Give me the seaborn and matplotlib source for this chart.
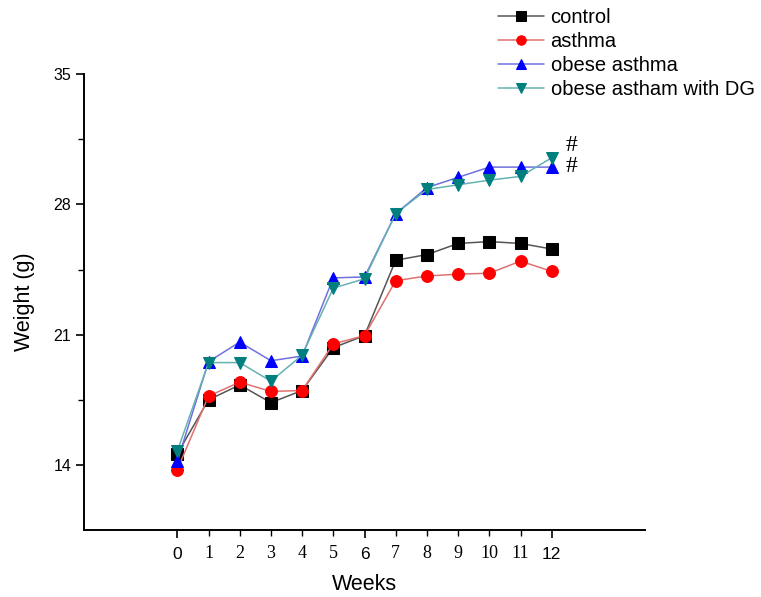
import pandas as pd
import matplotlib.pyplot as plt
import seaborn as sns

# ===============================
# Body weight data
# ===============================
weeks = list(range(13))
control = [14.6, 17.5, 18.3, 17.35, 18.0, 20.3, 20.95, 25.0, 25.3, 25.9, 26.0, 25.9, 25.6]
asthma = [13.75, 17.7, 18.45, 17.95, 18.0, 20.5, 20.95, 23.9, 24.15, 24.25, 24.3, 24.95, 24.4]
obese_asthma = [14.2, 19.55, 20.6, 19.6, 19.85, 24.05, 24.1, 27.5, 28.9, 29.45, 30.0, 30.0, 30.0]
obese_dg = [14.75, 19.5, 19.5, 18.5, 19.9, 23.5, 24.0, 27.5, 28.8, 29.05, 29.3, 29.5, 30.5]

series = [
    ('control', control, 's', '#000000', '#555555'),
    ('asthma', asthma, 'o', '#ff0000', '#e07070'),
    ('obese asthma', obese_asthma, '^', '#0000ff', '#7070e0'),
    ('obese astham with DG', obese_dg, 'v', '#007f7f', '#66b2b2'),
]

sns.set_style('white')
plt.rcParams['font.family'] = ['Liberation Sans', 'DejaVu Sans']
plt.rcParams['text.color'] = 'black'
plt.rcParams['axes.labelcolor'] = 'black'
plt.rcParams['xtick.color'] = 'black'
plt.rcParams['ytick.color'] = 'black'

fig = plt.figure(figsize=(7.61, 5.97), dpi=100)
ax = fig.add_axes([0.110, 0.112, 0.738, 0.764])

for name, vals, mk, mcol, lcol in series:
    df = pd.DataFrame({'week': weeks, 'weight': vals})
    sns.lineplot(data=df, x='week', y='weight', ax=ax, label=name,
                 color=lcol, linewidth=1.1, marker=mk, markersize=8.5,
                 markerfacecolor=mcol, markeredgecolor=mcol)

# significance marks
ax.text(12.45, 31.15, '#', fontsize=17, family='Liberation Serif', va='center', ha='left')
ax.text(12.45, 30.05, '#', fontsize=17, family='Liberation Serif', va='center', ha='left')

ax.set_xlim(-3, 15)
ax.set_ylim(10.5, 35)

# x ticks: 0/6/12 as major, the rest minor in a serif face
ax.set_xticks([0, 6, 12], labels=['0', '6', '12'])
minor_w = [w for w in weeks if w % 6 != 0]
ax.set_xticks(minor_w, labels=[str(w) for w in minor_w], minor=True)
for lab in ax.get_xticklabels(minor=True):
    lab.set_fontfamily('Liberation Serif')
ax.tick_params(axis='x', which='major', length=6, width=1.2, labelsize=12.5, pad=6)
ax.tick_params(axis='x', which='minor', length=4, width=1, labelsize=13, pad=7)

ax.set_yticks([14, 21, 28, 35])
ax.set_yticks([17.5, 24.5, 31.5], minor=True)
ax.tick_params(axis='y', which='major', length=6, width=1.2, labelsize=11.5, pad=3)
ax.tick_params(axis='y', which='minor', length=4, width=1)
ax.tick_params(axis='both', which='both', direction='out', bottom=True, left=True, color='black')

for side in ['top', 'right']:
    ax.spines[side].set_visible(False)
for side in ['left', 'bottom']:
    ax.spines[side].set_linewidth(1.4)
    ax.spines[side].set_color('black')

ax.set_xlabel('Weeks', fontsize=15.5, labelpad=8)
ax.set_ylabel('Weight (g)', fontsize=15.5, labelpad=13)

handles, labels = ax.get_legend_handles_labels()
ax.get_legend().remove()
fig.legend(handles, labels, loc='upper left', bbox_to_anchor=(0.644, 1.0),
           frameon=False, fontsize=14.5, handlelength=2.3, labelspacing=0.25,
           handletextpad=0.3, borderaxespad=0, markerscale=0.8)

plt.savefig('out.png', dpi=100)
plt.close()
